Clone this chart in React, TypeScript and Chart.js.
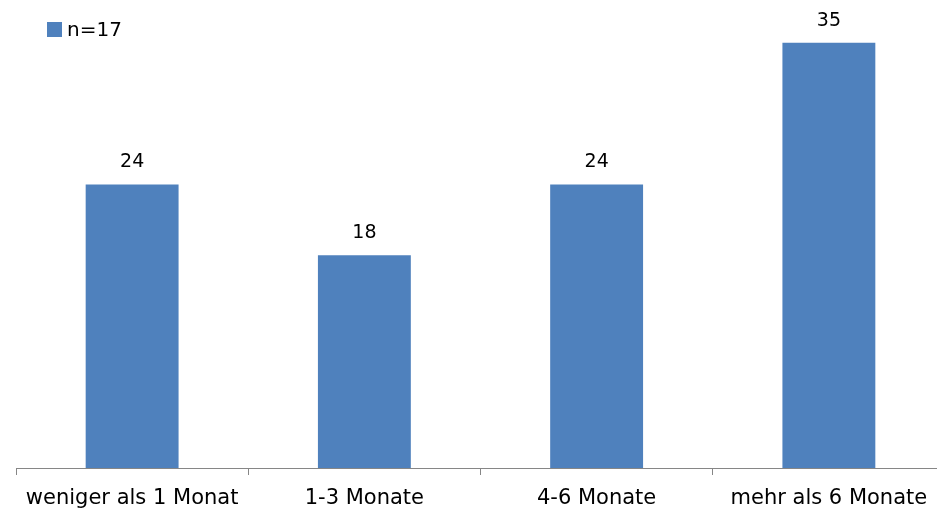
import React, { useEffect, useRef } from 'react';
import { Chart, registerables } from 'chart.js';

Chart.register(...registerables);

const categories = ['weniger als 1 Monat', '1-3 Monate', '4-6 Monate', 'mehr als 6 Monate'];
const values = [23.53, 17.65, 23.53, 35.29];
const valueLabels = ['24', '18', '24', '35'];
const seriesLabel = 'n=17';

const BAR_COLOR = '#4F81BD';
const AXIS_COLOR = '#868686';
const FONT = '"DejaVu Sans", Verdana, sans-serif';

export default function App() {
  const ref = useRef<HTMLCanvasElement>(null);

  useEffect(() => {
    if (!ref.current) return;

    const valueLabelPlugin = {
      id: 'valueLabels',
      afterDatasetsDraw(chart: any) {
        const ctx = chart.ctx;
        const meta = chart.getDatasetMeta(0);
        ctx.save();
        ctx.font = `19px ${FONT}`;
        ctx.fillStyle = '#000';
        ctx.textAlign = 'center';
        ctx.textBaseline = 'alphabetic';
        meta.data.forEach((el: any, i: number) => {
          ctx.fillText(valueLabels[i], el.x, el.y - 17);
        });
        ctx.restore();
      },
    };

    const cornerLegendPlugin = {
      id: 'cornerLegend',
      afterDraw(chart: any) {
        const ctx = chart.ctx;
        const ds = chart.data.datasets[0];
        ctx.save();
        ctx.fillStyle = ds.backgroundColor;
        ctx.fillRect(47, 22, 15, 15);
        ctx.fillStyle = '#000';
        ctx.font = `20px ${FONT}`;
        ctx.textAlign = 'left';
        ctx.textBaseline = 'alphabetic';
        ctx.fillText(ds.label, 67, 36);
        ctx.restore();
      },
    };

    const chart = new Chart(ref.current, {
      type: 'bar',
      data: {
        labels: categories,
        datasets: [
          {
            label: seriesLabel,
            data: values,
            backgroundColor: BAR_COLOR,
            borderWidth: 0,
            barPercentage: 0.4,
            categoryPercentage: 1,
          },
        ],
      },
      options: {
        animation: false,
        responsive: false,
        devicePixelRatio: 1,
        layout: { padding: { left: 16, right: 15, top: 10, bottom: 0 } },
        plugins: {
          legend: { display: false },
          tooltip: { enabled: false },
        },
        scales: {
          x: {
            offset: true,
            grid: {
              display: true,
              offset: true,
              drawOnChartArea: false,
              drawTicks: true,
              tickLength: 7,
              color: AXIS_COLOR,
            },
            border: { display: true, color: AXIS_COLOR, width: 1 },
            ticks: {
              color: '#000',
              font: { family: FONT, size: 21 },
              padding: 11,
              maxRotation: 0,
              autoSkip: false,
            },
            afterFit(scale: any) {
              scale.height = 42;
            },
          },
          y: {
            display: false,
            min: 0,
            max: 38,
          },
        },
      },
      plugins: [valueLabelPlugin, cornerLegendPlugin],
    });

    return () => chart.destroy();
  }, []);

  return (
    <div
      style={{
        position: 'fixed',
        left: 0,
        top: 0,
        width: 937,
        height: 510,
        overflow: 'hidden',
        background: '#fff',
      }}
    >
      <canvas ref={ref} width={960} height={510} style={{ display: 'block' }} />
    </div>
  );
}
